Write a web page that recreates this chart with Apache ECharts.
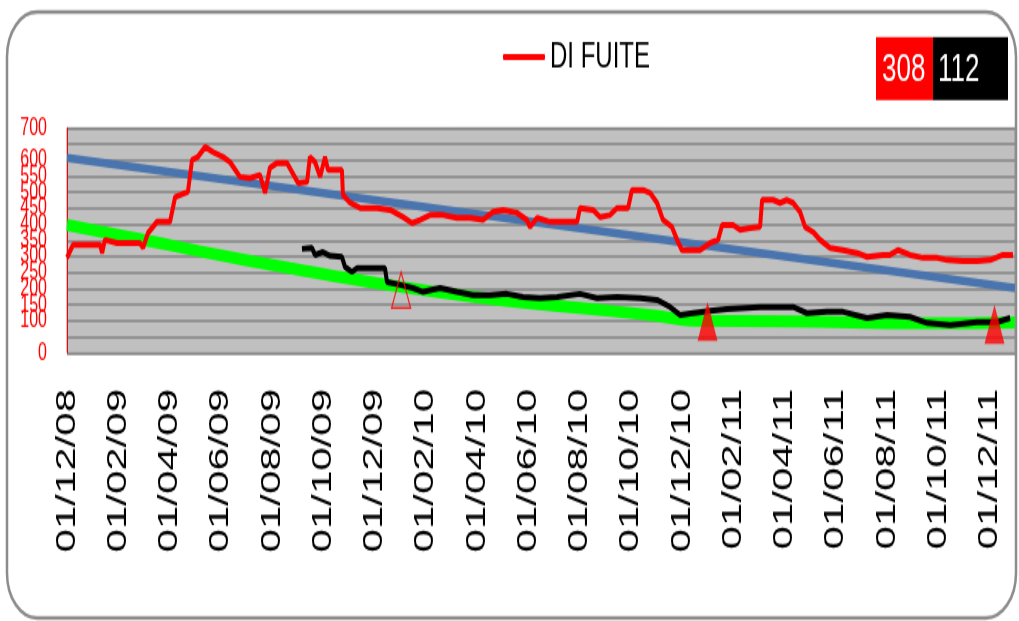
<!DOCTYPE html>
<html>
<head>
<meta charset="utf-8">
<script src="https://cdn.jsdelivr.net/npm/echarts@6/dist/echarts.min.js"></script>
<style>
  html { margin: 0; padding: 0; background: #ffffff; overflow: hidden; }
  body { margin: 0; padding: 0; background: #ffffff; width: 1019px; height: 621px; }
  #chart { width: 1019px; height: 414px; transform: scaleY(1.5); transform-origin: 0 0; }
</style>
</head>
<body>
<div id="chart"></div>
<script>
// X axis: months since 01/12/08
const tickLabels = ['01/12/08','01/02/09','01/04/09','01/06/09','01/08/09','01/10/09','01/12/09',
  '01/02/10','01/04/10','01/06/10','01/08/10','01/10/10','01/12/10',
  '01/02/11','01/04/11','01/06/11','01/08/11','01/10/11','01/12/11'];
const yTicks = [0, 50, 100, 150, 200, 250, 300, 350, 400, 450, 500, 550, 600, 650, 700];

const seriesName = 'DI FUITE';
const boxValues = ['308', '112'];

const redMonths = [0.00,0.23,0.51,1.29,1.37,1.48,1.95,2.34,2.85,2.97,3.16,3.51,4.02,4.22,4.72,4.88,5.11,5.39,5.70,6.09,
  6.36,6.75,7.14,7.53,7.73,7.92,8.20,8.59,9.02,9.37,9.48,9.68,9.88,10.07,10.19,10.73,10.77,11.05,11.44,12.10,
  12.61,13.11,13.47,13.78,14.17,14.68,15.22,15.73,16.24,16.63,17.02,17.56,17.95,18.07,18.35,18.85,19.36,19.91,20.02,20.53,
  20.80,21.19,21.47,21.90,22.05,22.48,22.76,23.03,23.26,23.61,23.81,24.00,24.43,24.71,25.10,25.41,25.57,26.00,26.27,26.66,
  27.05,27.13,27.56,27.83,28.10,28.34,28.61,28.81,29.12,29.39,29.78,30.29,30.84,31.23,31.85,32.12,32.44,32.90,33.41,33.96,
  34.35,34.97,35.52,36.03,36.53,36.92];
const redValues = [296,336,336,336,311,352,342,342,342,327,373,408,408,485,501,600,610,641,625,610,
  594,548,544,554,498,576,591,591,529,532,610,594,548,610,569,569,492,467,451,451,
  445,423,404,414,429,429,420,420,414,439,445,436,414,392,420,408,408,408,451,445,
  423,429,451,451,507,507,498,467,414,392,352,320,320,320,342,352,398,398,383,389,
  392,476,476,467,476,467,439,392,376,352,327,320,311,299,305,305,320,305,296,296,
  289,286,286,289,305,305];

const blackMonths = [9.17,9.56,9.68,9.99,10.27,10.73,10.85,11.12,11.32,11.94,12.41,12.49,13.00,13.50,13.90,14.56,15.22,15.85,16.51,17.17,
  17.80,18.46,19.13,20.02,20.69,21.47,22.37,23.03,23.54,23.93,24.43,25.10,25.76,27.05,28.34,28.88,29.66,30.29,31.23,32.01,
  32.90,33.57,34.47,35.52,36.30,36.81];
const blackValues = [324,327,305,314,302,299,268,252,264,264,264,221,212,202,190,202,190,180,180,184,
  174,171,174,184,171,174,171,165,143,118,124,131,137,143,143,124,128,128,109,118,
  112,93,87,96,96,109];

const greenMonths = [0, 3.24, 5.15, 8.7, 12.5, 16.5, 20.0, 23.1, 24.4, 28.3, 33.6, 37];
const greenValues = [398, 348, 317, 264, 212, 168, 140, 115, 100, 98, 92, 95];

const blueMonths = [0, 37];
const blueValues = [607, 202];

const hollowMarkMonths = [13.04];
const hollowMarkValues = [196];
const filledMarkMonths = [25.0, 36.2];
const filledMarkValues = [98, 89];

const zip = (xs, ys) => xs.map((x, i) => [x, ys[i]]);

const sans = "'Liberation Sans', Arial, sans-serif";

const chart = echarts.init(document.getElementById('chart'), null, { renderer: 'canvas' });
chart.setOption({
  animation: false,
  backgroundColor: '#ffffff',
  grid: {
    left: 67, right: 4, top: 85.3, bottom: 178.7,
    show: true, backgroundColor: '#c0c0c0', borderColor: '#8f8f8f', borderWidth: 1
  },
  legend: {
    data: [{ name: seriesName, icon: 'roundRect' }],
    left: 503, top: 26, padding: 0,
    itemWidth: 42, itemHeight: 4, itemGap: 5,
    textStyle: { color: '#000', fontSize: 24, fontFamily: sans }
  },
  xAxis: {
    type: 'value', min: 0, max: 37, interval: 2,
    axisLine: { show: false }, axisTick: { show: false }, splitLine: { show: false },
    axisLabel: {
      rotate: 90, margin: 24, fontSize: 28, color: '#000', fontFamily: sans,
      showMaxLabel: false, showMinLabel: true, hideOverlap: false,
      formatter: v => (v % 2 === 0 && tickLabels[v / 2] !== undefined) ? tickLabels[v / 2] : ''
    }
  },
  yAxis: {
    type: 'value', min: yTicks[0], max: yTicks[yTicks.length - 1], interval: 50,
    axisLine: { show: true, lineStyle: { color: '#ff0000', width: 1 } },
    axisTick: { show: false },
    splitLine: { show: true, lineStyle: { color: '#858585', width: 1.6 } },
    axisLabel: { interval: 0, showMinLabel: true, showMaxLabel: true, hideOverlap: false,
      color: '#ff0000', fontSize: 16, margin: 20, fontFamily: sans }
  },
  graphic: [
    { type: 'rect', z: -10, shape: { x: 7, y: 8, width: 1009, height: 404, r: 30 },
      style: { fill: 'none', stroke: '#8c8c8c', lineWidth: 2.5 } },
    { type: 'rect', shape: { x: 876, y: 24.7, width: 57, height: 42 }, style: { fill: '#ff0000' } },
    { type: 'rect', shape: { x: 933, y: 24.7, width: 75, height: 42 }, style: { fill: '#000000' } },
    { type: 'text', x: 882, y: 47, style: { text: boxValues[0], fill: '#ffffff', fontSize: 26, fontFamily: sans, verticalAlign: 'middle' } },
    { type: 'text', x: 938, y: 47, style: { text: boxValues[1], fill: '#ffffff', fontSize: 26, fontFamily: sans, verticalAlign: 'middle' } }
  ],
  series: [
    { name: 'trend2', type: 'line', data: zip(greenMonths, greenValues), smooth: true, showSymbol: false,
      lineStyle: { color: '#00ff00', width: 8 }, z: 2 },
    { name: 'trend1', type: 'line', data: zip(blueMonths, blueValues), showSymbol: false,
      lineStyle: { color: '#4a74ae', width: 5.5 }, z: 3 },
    { name: 'black', type: 'line', data: zip(blackMonths, blackValues), showSymbol: false,
      lineStyle: { color: '#000000', width: 4 }, z: 4 },
    { name: seriesName, type: 'line', data: zip(redMonths, redValues), showSymbol: false,
      itemStyle: { color: '#ff0000' }, lineStyle: { color: '#ff0000', width: 4 }, z: 5 },
    { name: 'mark-hollow', type: 'scatter', data: zip(hollowMarkMonths, hollowMarkValues), symbol: 'triangle',
      symbolSize: [19, 24], itemStyle: { color: 'rgba(0,0,0,0)', borderColor: '#ff0000', borderWidth: 1.3 }, z: 6 },
    { name: 'mark-filled', type: 'scatter', data: zip(filledMarkMonths, filledMarkValues), symbol: 'triangle',
      symbolSize: [20, 26], itemStyle: { color: '#ff0000' }, z: 6 }
  ]
});
</script>
</body>
</html>
